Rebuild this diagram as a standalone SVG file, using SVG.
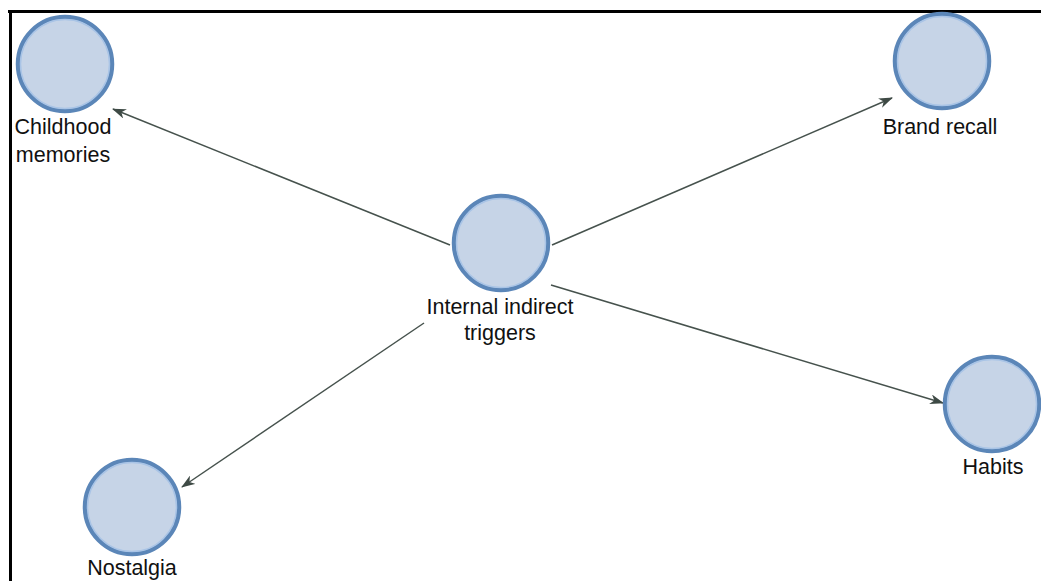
<svg xmlns="http://www.w3.org/2000/svg" width="1041" height="581" viewBox="0 0 1041 581">
<style>
.ring{fill:#c6d4e7;stroke:#5b86b8;stroke-width:4.5}
.inner{fill:none;stroke:#a9c4e6;stroke-width:1.5}
.lbl{font-family:"Liberation Sans",Arial,sans-serif;font-size:21.5px;fill:#111;text-anchor:middle}
.edge{stroke:#46524d;stroke-width:1.5;fill:none;marker-end:url(#arr)}
</style>
<defs>
<marker id="arr" viewBox="0 0 14 10" refX="13" refY="5" markerWidth="14" markerHeight="10" markerUnits="userSpaceOnUse" orient="auto">
<path d="M0,0 L14,5 L0,10 L4,5 z" fill="#3e4a45"/>
</marker>
</defs>
<rect x="0" y="0" width="1041" height="581" fill="#fff"/>
<g id="frame">
<line x1="8" y1="11.5" x2="1041" y2="11.5" stroke="#000" stroke-width="3"/>
<line x1="10.5" y1="10" x2="10.5" y2="581" stroke="#000" stroke-width="3"/>
</g>
<g id="connectors">
<line class="edge" x1="450" y1="245" x2="113" y2="109"/>
<line class="edge" x1="552" y1="245" x2="892" y2="98"/>
<line class="edge" x1="551" y1="285" x2="943" y2="403"/>
<line class="edge" x1="424" y1="323" x2="182" y2="487"/>
</g>
<g id="childhood">
<circle class="ring" cx="65" cy="64" r="47"/>
<circle class="inner" cx="65" cy="64" r="44.5"/>
<text class="lbl" x="63" y="134">Childhood</text>
<text class="lbl" x="63" y="162">memories</text>
</g>
<g id="central">
<circle class="ring" cx="501" cy="243" r="47"/>
<circle class="inner" cx="501" cy="243" r="44.5"/>
<text class="lbl" x="500" y="314">Internal indirect</text>
<text class="lbl" x="500" y="340">triggers</text>
</g>
<g id="brand">
<circle class="ring" cx="942" cy="61" r="47"/>
<circle class="inner" cx="942" cy="61" r="44.5"/>
<text class="lbl" x="940" y="134">Brand recall</text>
</g>
<g id="habits">
<circle class="ring" cx="992" cy="404" r="47"/>
<circle class="inner" cx="992" cy="404" r="44.5"/>
<text class="lbl" x="993" y="474">Habits</text>
</g>
<g id="nostalgia">
<circle class="ring" cx="132" cy="507" r="47"/>
<circle class="inner" cx="132" cy="507" r="44.5"/>
<text class="lbl" x="132" y="575">Nostalgia</text>
</g>
</svg>
